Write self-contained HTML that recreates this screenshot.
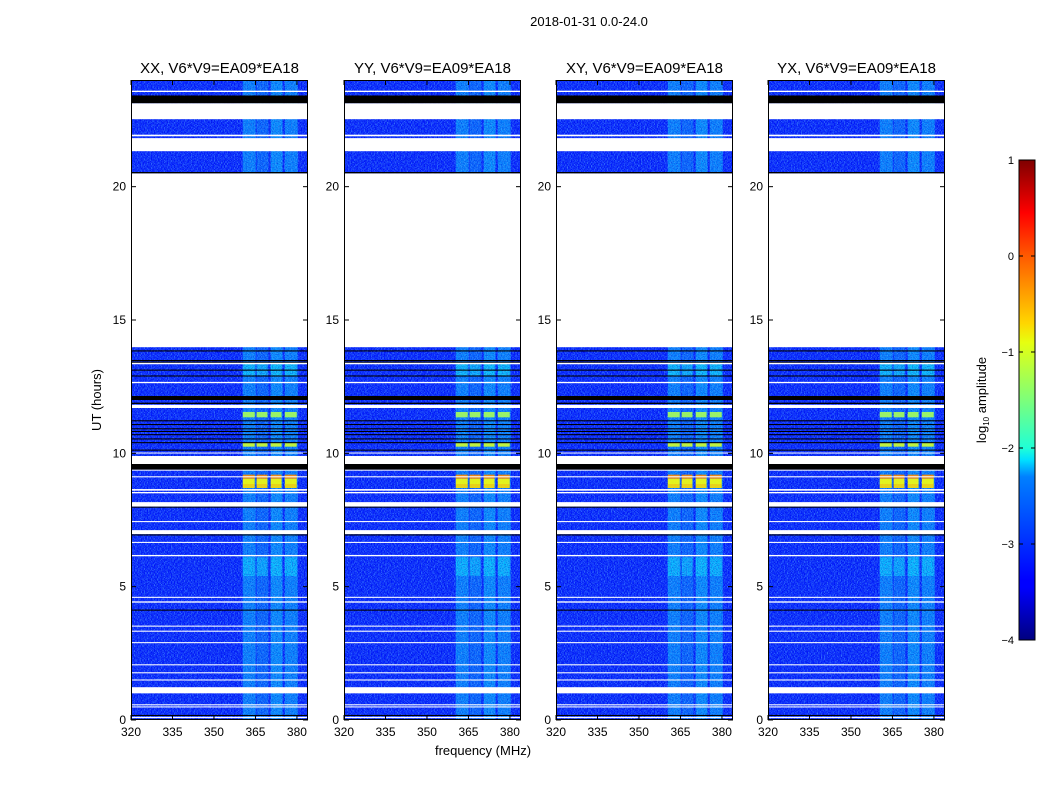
<!DOCTYPE html>
<html><head><meta charset="utf-8">
<style>
body{margin:0;background:#fff;}
svg text{font-family:"Liberation Sans","DejaVu Sans",sans-serif;fill:#000;}
</style></head>
<body>
<svg id="fig" width="1050" height="800" viewBox="0 0 1050 800" xmlns="http://www.w3.org/2000/svg">
<defs>
<filter id="noise" x="0" y="0" width="100%" height="100%">
<feTurbulence type="fractalNoise" baseFrequency="0.7 1.0" numOctaves="1" seed="3"/>
<feColorMatrix type="matrix" values="0 0 0 0 0.1  0 0 0 0 0.45  0 0 0 0 1  2.6 0 0 0 -1.0"/>
</filter>
<filter id="noise2" x="0" y="0" width="100%" height="100%">
<feTurbulence type="fractalNoise" baseFrequency="0.8 1.1" numOctaves="1" seed="11"/>
<feColorMatrix type="matrix" values="0 0 0 0 0  0 0 0 0 0  0 0 0 0 0.6  0 2.2 0 0 -0.95"/>
</filter>
<linearGradient id="jetgrad" x1="0" y1="1" x2="0" y2="0">
<stop offset="0" stop-color="#00007f"/><stop offset="0.11" stop-color="#0000ff"/>
<stop offset="0.125" stop-color="#0000ff"/><stop offset="0.34" stop-color="#0080ff"/>
<stop offset="0.375" stop-color="#00e0ff"/><stop offset="0.4" stop-color="#20ffd6"/>
<stop offset="0.5" stop-color="#7dff7a"/><stop offset="0.62" stop-color="#e6ff10"/>
<stop offset="0.66" stop-color="#ffd600"/><stop offset="0.8" stop-color="#ff5a00"/>
<stop offset="0.89" stop-color="#ff0000"/><stop offset="1" stop-color="#7f0000"/>
</linearGradient>
</defs>
<text x="589" y="26" font-size="13" text-anchor="middle">2018-01-31 0.0-24.0</text>
<text x="0" y="0" font-size="13" text-anchor="middle" transform="translate(101,400) rotate(-90)">UT (hours)</text>
<text x="483" y="755" font-size="13" text-anchor="middle">frequency (MHz)</text>
<g id="panels"></g>
<g id="cbar"></g>
</svg>
<script>
// ---- data ----
const panelTitles = ["XX, V6*V9=EA09*EA18","YY, V6*V9=EA09*EA18","XY, V6*V9=EA09*EA18","YX, V6*V9=EA09*EA18"];
const baseLevel = [-3.25,-3.25,-3.25,-3.25];
const channelBands = [[360.4,365.1],[365.4,369.7],[370.5,374.8],[375.6,380.3]];
const bandLevel = [-2.45,-2.7,-2.35,-2.45];
// bright RFI rows limited to channel bands: [startHour, endHour, log10 amplitude]
const hotRows = [[8.7,8.85,-0.7],[8.85,9.05,-0.9],[9.05,9.2,-0.3],[11.35,11.55,-1.3],[10.25,10.4,-1.1],[12.9,13.4,-2.1],[5.4,6.1,-2.2]];
// flagged (no data) spans in hours
const whiteGaps = [[13.98,20.5],[21.33,21.82],[21.89,21.95],[22.53,23.13],[23.55,23.6],
  [13.34,13.4],[12.63,12.68],[11.7,11.82],[10.0,10.03],[9.6,9.9],[9.35,9.39],[9.1,9.14],[8.6,8.66],[8.5,8.55],[8.0,8.17],
  [7.42,7.46],[6.97,7.12],[6.64,6.68],[6.14,6.19],[4.58,4.62],[4.4,4.45],[3.5,3.54],[3.31,3.35],[2.88,2.92],[2.05,2.09],[1.75,1.79],[1.48,1.52],[1.0,1.23],[0.55,0.59],[0.47,0.51],[0.07,0.12]];
const blackLines = [[23.13,23.42],[20.5,20.55],[13.82,13.86],[13.46,13.5],[13.4,13.44],[13.1,13.14],[12.88,12.92],[12.0,12.15],[11.85,11.9],[11.2,11.24],[11.06,11.1],[10.9,10.94],[10.8,10.84],[10.68,10.72],[10.52,10.56],[10.38,10.42],[10.1,10.14],[9.39,9.6],[7.98,8.0],[6.92,6.96],[4.1,4.14],[0.15,0.19]];
const yTicks = [0,5,10,15,20];
const xTicks = [320,335,350,365,380];
const cbarTicks = [1,0,-1,-2,-3,-4];

// ---- layout ----
const panelX = [131,344,556,768], PW = 177, PT = 80, PB = 720;
const fMin = 320, fMax = 384, hMin = 0, hMax = 24;
const NS = "http://www.w3.org/2000/svg";
function jet(v){
  let t = Math.max(0, Math.min(1, (v+4)/5));
  const f = (x)=>Math.max(0, Math.min(1, x));
  const r = f(1.5 - Math.abs(4*t-3)), g = f(1.5 - Math.abs(4*t-2)), b = f(1.5 - Math.abs(4*t-1));
  return `rgb(${Math.round(r*255)},${Math.round(g*255)},${Math.round(b*255)})`;
}
function mk(tag, attrs, parent){ const e = document.createElementNS(NS, tag); for (const k in attrs) e.setAttribute(k, attrs[k]); parent.appendChild(e); return e; }
const panelsG = document.getElementById('panels');
panelTitles.forEach((title, p) => {
  const x0 = panelX[p];
  const xs = (f)=> x0 + (f - fMin) / (fMax - fMin) * PW;
  const ys = (h)=> PB - (h - hMin) / (hMax - hMin) * (PB - PT);
  const g = mk('g', {}, panelsG);
  
  
  const base = mk('rect', {x:x0, y:PT, width:PW, height:PB-PT, fill:jet(baseLevel[p])}, g);
  
  
  channelBands.forEach((b, i) => {
    const r = mk('rect', {x:xs(b[0]), y:PT, width:xs(b[1])-xs(b[0]), height:PB-PT, fill:jet(bandLevel[i]), opacity:0.65}, g);
    
    
  });
  const drawHot = (strong) => hotRows.forEach(row => {
    if ((row[2] >= -2) !== strong) return;
    channelBands.forEach(b => {
      const r = mk('rect', {x:xs(b[0]), y:ys(row[1]), width:xs(b[1])-xs(b[0])-1, height:ys(row[0])-ys(row[1]), fill:jet(row[2]), opacity: strong ? 0.9 : 0.55}, g);
      
      
    });
  });
  drawHot(false);
  const nz = mk('rect', {x:x0, y:PT, width:PW, height:PB-PT, filter:'url(#noise)', opacity:0.7}, g);
  
  
  const nz2 = mk('rect', {x:x0, y:PT, width:PW, height:PB-PT, filter:'url(#noise2)', opacity:0.6}, g);
  
  
  drawHot(true);
  whiteGaps.forEach(w => {
    const r = mk('rect', {x:x0, y:ys(w[1]), width:PW, height:Math.max(1, ys(w[0])-ys(w[1])), fill:'#fff'}, g);
    
    
  });
  blackLines.forEach(w => {
    const r = mk('rect', {x:x0, y:ys(w[1]), width:PW, height:Math.max(1, ys(w[0])-ys(w[1])), fill:'#000'}, g);
    
    
  });
  const fr = mk('rect', {x:x0+0.5, y:PT+0.5, width:PW-1, height:PB-PT-1, fill:'none', stroke:'#000', 'stroke-width':1}, g);
  
  
  const t = mk('text', {x:x0+PW/2, y:73, 'font-size':15, 'text-anchor':'middle'}, g);
  t.textContent = title;
  
  
  yTicks.forEach(v => {
    const y = ys(v);
    mk('line', {x1:x0, x2:x0+5, y1:y, y2:y, stroke:'#000'}, g);
    mk('line', {x1:x0+PW-5, x2:x0+PW, y1:y, y2:y, stroke:'#000'}, g);
    const l = mk('text', {x:x0-5, y:y+4, 'font-size':12, 'text-anchor':'end'}, g);
    l.textContent = v;
    
    
  });
  xTicks.forEach(v => {
    const x = xs(v);
    mk('line', {x1:x, x2:x, y1:PB, y2:PB-5, stroke:'#000'}, g);
    mk('line', {x1:x, x2:x, y1:PT, y2:PT+5, stroke:'#000'}, g);
    const l = mk('text', {x:x, y:PB+16, 'font-size':12, 'text-anchor':'middle'}, g);
    l.textContent = v;
    
    
  });
});
// colorbar
const cb = document.getElementById('cbar');
const CX = 1019, CW = 16, CT = 160, CB = 640;
const cs = (v)=> CB - (v + 4) / 5 * (CB - CT);
mk('rect', {x:CX, y:CT, width:CW, height:CB-CT, fill:'url(#jetgrad)', stroke:'#000', 'stroke-width':1}, cb);
cbarTicks.forEach(v => {
  const y = cs(v);
  mk('line', {x1:CX, x2:CX+4, y1:y, y2:y, stroke:'#000'}, cb);
  mk('line', {x1:CX+CW-4, x2:CX+CW, y1:y, y2:y, stroke:'#000'}, cb);
  const l = mk('text', {x:CX-5, y:y+4, 'font-size':11, 'text-anchor':'end'}, cb);
  l.textContent = v < 0 ? '\u2212' + (-v) : v;
  
  
});
const cl = mk('text', {x:0, y:0, 'font-size':13, 'text-anchor':'middle', transform:'translate(986,400) rotate(-90)'}, cb);
cl.innerHTML = 'log<tspan font-size="8" dy="3">10</tspan><tspan dy="-3"> amplitude</tspan>';


</script>
</body></html>
